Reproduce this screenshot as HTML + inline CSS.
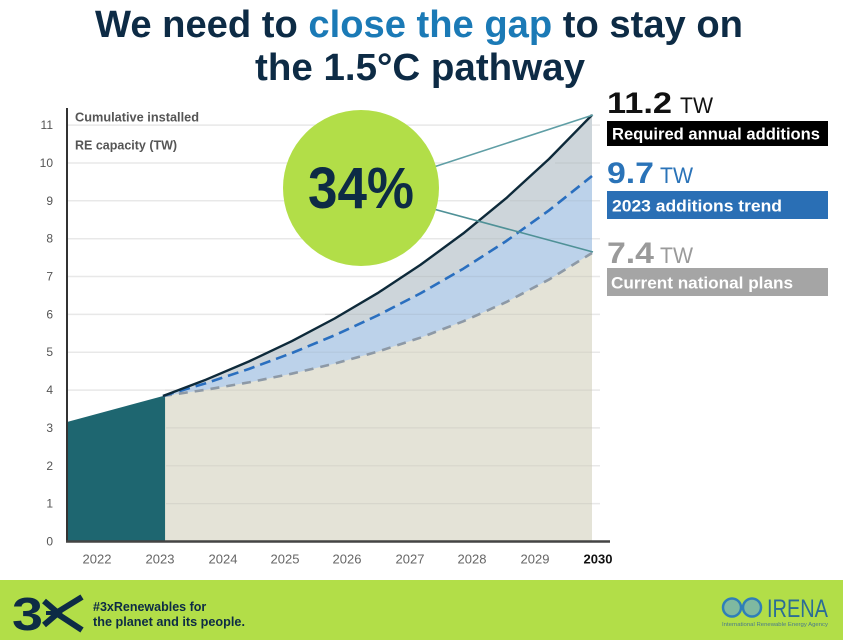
<!DOCTYPE html>
<html>
<head>
<meta charset="utf-8">
<style>
html,body{margin:0;padding:0;background:#fff;}
body{width:843px;height:640px;overflow:hidden;}
svg{display:block;}
</style>
</head>
<body>
<svg width="843" height="640" viewBox="0 0 843 640" xmlns="http://www.w3.org/2000/svg" font-family="'Liberation Sans', Arial, sans-serif">
  <rect x="0" y="0" width="843" height="640" fill="#ffffff"/>

  <!-- Title -->
  <text x="419" y="37" text-anchor="middle" font-size="38" font-weight="bold" fill="#0d2b45" textLength="648" lengthAdjust="spacingAndGlyphs">We need to <tspan fill="#1b7ab6">close the gap</tspan> to stay on</text>
  <text x="420" y="80" text-anchor="middle" font-size="38" font-weight="bold" fill="#0d2b45" textLength="330" lengthAdjust="spacingAndGlyphs">the 1.5°C pathway</text>

  <!-- gridlines on white -->
  <g stroke="#e8e8e8" stroke-width="1.5">
    <line x1="67" y1="503.6" x2="600" y2="503.6"/>
    <line x1="67" y1="465.8" x2="600" y2="465.8"/>
    <line x1="67" y1="427.9" x2="600" y2="427.9"/>
    <line x1="67" y1="390.1" x2="600" y2="390.1"/>
    <line x1="67" y1="352.2" x2="600" y2="352.2"/>
    <line x1="67" y1="314.4" x2="600" y2="314.4"/>
    <line x1="67" y1="276.5" x2="600" y2="276.5"/>
    <line x1="67" y1="238.7" x2="600" y2="238.7"/>
    <line x1="67" y1="200.8" x2="600" y2="200.8"/>
    <line x1="67" y1="163.0" x2="600" y2="163.0"/>
    <line x1="67" y1="125.1" x2="600" y2="125.1"/>
  </g>

  <!-- grey band (between black and blue) -->
  <path fill="#cdd5da" d="M163,396 L205.9,379.7 L248.8,361.5 L291.7,341.2 L334.6,318.5 L377.5,293.2 L420.4,264.9 L463.3,233.4 L506.2,198.2 L549.1,158.9 L592,115 L592,541.5 L163,541.5 Z"/>
  <!-- blue band -->
  <path fill="#bcd2ea" d="M163,396 L205.9,383.2 L248.8,369 L291.7,353.1 L334.6,335.3 L377.5,315.5 L420.4,293.4 L463.3,268.7 L506.2,241.1 L549.1,210.3 L592,176 L592,541.5 L163,541.5 Z"/>
  <!-- beige area -->
  <path fill="#e4e3d7" d="M163,396 L205.9,389.7 L248.8,382.4 L291.7,373.7 L334.6,363.6 L377.5,351.7 L420.4,337.7 L463.3,321.3 L506.2,302.1 L549.1,279.5 L592,253 L592,541.5 L163,541.5 Z"/>

  <!-- faint gridlines over fills -->
  <g stroke="rgba(110,110,110,0.10)" stroke-width="1.2">
    <line x1="165" y1="503.6" x2="592" y2="503.6"/>
    <line x1="165" y1="465.8" x2="592" y2="465.8"/>
    <line x1="165" y1="427.9" x2="592" y2="427.9"/>
    <line x1="165" y1="390.1" x2="592" y2="390.1"/>
    <line x1="255" y1="352.2" x2="592" y2="352.2"/>
    <line x1="325" y1="314.4" x2="592" y2="314.4"/>
    <line x1="400" y1="276.5" x2="592" y2="276.5"/>
    <line x1="460" y1="238.7" x2="592" y2="238.7"/>
    <line x1="510" y1="200.8" x2="592" y2="200.8"/>
    <line x1="555" y1="163.0" x2="592" y2="163.0"/>
  </g>

  <!-- teal historic area -->
  <path fill="#1e6670" d="M67,422 L165,395.5 L165,541.5 L67,541.5 Z"/>
  <line x1="165.5" y1="396" x2="165.5" y2="541" stroke="#d8dccf" stroke-width="1"/>

  <!-- curves -->
  <polyline fill="none" stroke="#8d99a6" stroke-width="2.6" stroke-dasharray="9,7" stroke-linejoin="round" points="163,396 205.9,389.7 248.8,382.4 291.7,373.7 334.6,363.6 377.5,351.7 420.4,337.7 463.3,321.3 506.2,302.1 549.1,279.5 592,253"/>
  <polyline fill="none" stroke="#2a6fbf" stroke-width="2.6" stroke-dasharray="11,6" stroke-linejoin="round" points="163,396 205.9,383.2 248.8,369 291.7,353.1 334.6,335.3 377.5,315.5 420.4,293.4 463.3,268.7 506.2,241.1 549.1,210.3 592,176"/>
  <polyline fill="none" stroke="#0e2a3a" stroke-width="2.4" stroke-linejoin="round" points="163,396 205.9,379.7 248.8,361.5 291.7,341.2 334.6,318.5 377.5,293.2 420.4,264.9 463.3,233.4 506.2,198.2 549.1,158.9 592,115"/>

  <!-- axes -->
  <line x1="67" y1="108" x2="67" y2="542" stroke="#333" stroke-width="2"/>
  <line x1="66" y1="541.5" x2="610" y2="541.5" stroke="#444" stroke-width="2.5"/>

  <!-- y axis title -->
  <text x="75" y="121.5" font-size="12.5" font-weight="bold" fill="#555" textLength="124" lengthAdjust="spacingAndGlyphs">Cumulative installed</text>
  <text x="75" y="149.5" font-size="12.5" font-weight="bold" fill="#555">RE capacity (TW)</text>

  <!-- y tick labels -->
  <g font-size="12" fill="#555" text-anchor="end">
    <text x="53" y="545.5">0</text>
    <text x="53" y="507.6">1</text>
    <text x="53" y="469.8">2</text>
    <text x="53" y="431.9">3</text>
    <text x="53" y="394.1">4</text>
    <text x="53" y="356.2">5</text>
    <text x="53" y="318.4">6</text>
    <text x="53" y="280.5">7</text>
    <text x="53" y="242.7">8</text>
    <text x="53" y="204.8">9</text>
    <text x="53" y="167.0">10</text>
    <text x="53" y="129.1">11</text>
  </g>

  <!-- x tick labels -->
  <g font-size="13" fill="#666" text-anchor="middle">
    <text x="97" y="563.5">2022</text>
    <text x="160" y="563.5">2023</text>
    <text x="223" y="563.5">2024</text>
    <text x="285" y="563.5">2025</text>
    <text x="347" y="563.5">2026</text>
    <text x="410" y="563.5">2027</text>
    <text x="472" y="563.5">2028</text>
    <text x="535" y="563.5">2029</text>
    <text x="598" y="563.5" font-weight="bold" fill="#111">2030</text>
  </g>

  <!-- connectors + circle -->
  <line x1="400" y1="178" x2="593" y2="115" stroke="#5f9ea5" stroke-width="1.6"/>
  <line x1="400" y1="200" x2="593" y2="252" stroke="#4f9197" stroke-width="1.6"/>
  <circle cx="361" cy="188" r="78" fill="#b2de48"/>
  <text x="361" y="208" text-anchor="middle" font-size="58" font-weight="bold" fill="#0d2b45" textLength="106" lengthAdjust="spacingAndGlyphs">34%</text>

  <!-- right labels -->
  <text x="607" y="113" font-size="30" font-weight="bold" fill="#111" textLength="65" lengthAdjust="spacingAndGlyphs">11.2</text>
  <text x="680" y="113" font-size="22" fill="#111" textLength="33" lengthAdjust="spacingAndGlyphs">TW</text>
  <rect x="607" y="121" width="221" height="25" fill="#000"/>
  <text x="612" y="139.5" font-size="16.5" font-weight="bold" fill="#fff" textLength="208" lengthAdjust="spacingAndGlyphs">Required annual additions</text>

  <text x="607" y="183" font-size="30" font-weight="bold" fill="#2a73b8" textLength="47" lengthAdjust="spacingAndGlyphs">9.7</text>
  <text x="660" y="183" font-size="22" fill="#2a73b8" textLength="33" lengthAdjust="spacingAndGlyphs">TW</text>
  <rect x="607" y="191" width="221" height="28" fill="#2a6fb5"/>
  <text x="612" y="211.5" font-size="16.5" font-weight="bold" fill="#fff" textLength="170" lengthAdjust="spacingAndGlyphs">2023 additions trend</text>

  <text x="607" y="263" font-size="30" font-weight="bold" fill="#9a9a9a" textLength="47" lengthAdjust="spacingAndGlyphs">7.4</text>
  <text x="660" y="263" font-size="22" fill="#9a9a9a" textLength="33" lengthAdjust="spacingAndGlyphs">TW</text>
  <rect x="607" y="268" width="221" height="28" fill="#a5a5a5"/>
  <text x="611" y="288.5" font-size="16.5" font-weight="bold" fill="#fff" textLength="182" lengthAdjust="spacingAndGlyphs">Current national plans</text>

  <!-- footer -->
  <rect x="0" y="580" width="843" height="60" fill="#b2de48"/>
  <text x="12" y="630" font-size="46" font-weight="bold" fill="#0d2b45" textLength="31" lengthAdjust="spacingAndGlyphs">3</text>
  <g stroke="#0d2b45" stroke-width="6" fill="none" stroke-linecap="butt">
    <line x1="82" y1="597" x2="56" y2="613"/>
    <line x1="56" y1="613" x2="82" y2="630"/>
    <polyline points="44,601 58,613 44,625"/>
    <line x1="46" y1="613" x2="60" y2="613" stroke-width="4"/>
  </g>
  <text x="93" y="611" font-size="12.5" font-weight="bold" fill="#0d2b45">#3xRenewables for</text>
  <text x="93" y="626" font-size="12.5" font-weight="bold" fill="#0d2b45" textLength="152" lengthAdjust="spacingAndGlyphs">the planet and its people.</text>

  <!-- IRENA logo -->
  <circle cx="732" cy="607.5" r="9" fill="#7fb9a0" stroke="#2f7fb8" stroke-width="2.5"/>
  <circle cx="752" cy="607.5" r="9" fill="#7fb9a0" stroke="#2f7fb8" stroke-width="2.5"/>
  <text x="767" y="617" font-size="25" fill="#2b6d96" textLength="61" lengthAdjust="spacingAndGlyphs">IRENA</text>
  <text x="722" y="626" font-size="5" fill="#4a7a8a" textLength="106" lengthAdjust="spacingAndGlyphs">International Renewable Energy Agency</text>
</svg>
</body>
</html>
